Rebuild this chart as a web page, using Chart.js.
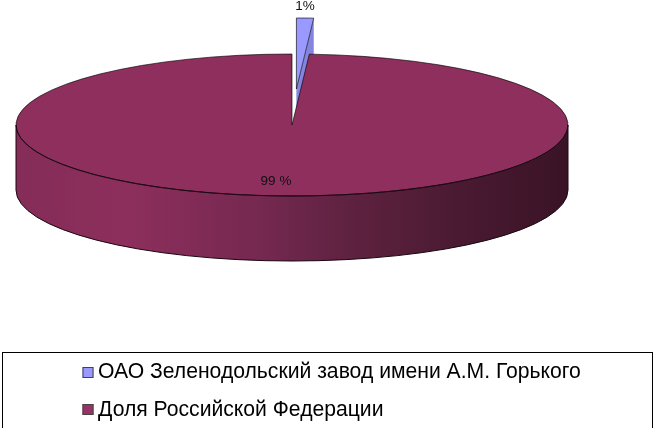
<!DOCTYPE html>
<html>
<head>
<meta charset="utf-8">
<script src="https://cdn.jsdelivr.net/npm/chart.js@4"></script>
<style>
  html, body { margin: 0; padding: 0; background: #fff; overflow: hidden; }
  canvas { display: block; }
</style>
</head>
<body>
<canvas id="pieChart" width="655" height="428"></canvas>
<script>
// Dados do gráfico
const categories = ["ОАО Зеленодольский завод имени А.М. Горького", "Доля Российской Федерации"];
const shares = [1, 99];
const shareLabels = ["1%", "99 %"];

// Cores
const sliceColors = ["#9999ff", "#8f2f5d"];
const swatchColors = ["#9999ff", "#993366"];
const cutColors = ["#8585e0", "#6f264a"];

// Geometria do "3D"
const centerX = 292, centerY = 125;
const radiusX = 276, radiusY = 71;
const squash = radiusY / radiusX;
const depth = 65;
const sliceExplode = [140, 0];
const labelSpots = [[305, 6], [276, 181]];

function wallGradient(ctx) {
  const g = ctx.createLinearGradient(centerX - radiusX, 0, centerX + radiusX, 0);
  g.addColorStop(0, "#852c58");
  g.addColorStop(0.2, "#8d2f5c");
  g.addColorStop(0.45, "#742850");
  g.addColorStop(0.6, "#5f2240");
  g.addColorStop(0.8, "#4a1a32");
  g.addColorStop(1, "#3a1326");
  return g;
}

const pie3d = {
  id: "pie3d",
  // o offset do Chart.js também aumenta o raio, então afasto a fatia aqui
  afterDatasetsUpdate(chart) {
    chart.getDatasetMeta(0).data.forEach((arc, i) => {
      const mid = (arc.startAngle + arc.endAngle) / 2;
      arc.baseX = arc.x;
      arc.baseY = arc.y;
      arc.x += Math.cos(mid) * sliceExplode[i];
      arc.y += Math.sin(mid) * sliceExplode[i];
    });
  },
  beforeDraw(chart) {
    const { ctx } = chart;
    // caixa da legenda
    ctx.save();
    ctx.strokeStyle = "#000";
    ctx.lineWidth = 1;
    ctx.strokeRect(2.5, 352.5, 650, 80);
    ctx.restore();
  },
  beforeDatasetsDraw(chart) {
    const { ctx } = chart;
    const arcs = chart.getDatasetMeta(0).data;
    ctx.save();
    arcs.forEach((arc, i) => {
      const ax = centerX + arc.x - arc.baseX;
      const ay = centerY + (arc.y - arc.baseY) * squash;
      // face do corte
      const ex = ax + Math.cos(arc.endAngle) * radiusX;
      const ey = ay + Math.sin(arc.endAngle) * radiusY;
      ctx.fillStyle = cutColors[i];
      ctx.beginPath();
      ctx.moveTo(ax, ay);
      ctx.lineTo(ex, ey);
      ctx.lineTo(ex, ey + depth);
      ctx.lineTo(ax, ay + depth);
      ctx.closePath();
      ctx.fill();
    });
    // parede da frente
    ctx.fillStyle = wallGradient(ctx);
    ctx.beginPath();
    ctx.ellipse(centerX, centerY, radiusX, radiusY, 0, 0, Math.PI);
    ctx.ellipse(centerX, centerY + depth, radiusX, radiusY, 0, Math.PI, 0, true);
    ctx.closePath();
    ctx.fill();
    ctx.restore();
    // achata o círculo do Chart.js numa elipse
    ctx.save();
    ctx.translate(centerX, centerY);
    ctx.scale(1, squash);
    ctx.translate(-arcs[0].baseX, -arcs[0].baseY);
  },
  afterDatasetsDraw(chart) {
    const { ctx } = chart;
    ctx.restore();
    ctx.save();
    // contornos da frente
    ctx.strokeStyle = "#1a0610";
    ctx.lineWidth = 1;
    ctx.beginPath();
    ctx.ellipse(centerX, centerY, radiusX, radiusY, 0, 0, Math.PI);
    ctx.stroke();
    ctx.beginPath();
    ctx.moveTo(centerX - radiusX, centerY);
    ctx.lineTo(centerX - radiusX, centerY + depth);
    ctx.ellipse(centerX, centerY + depth, radiusX, radiusY, 0, Math.PI, 0, true);
    ctx.lineTo(centerX + radiusX, centerY);
    ctx.stroke();
    // rótulos
    ctx.fillStyle = "#111";
    ctx.font = "13.5px 'Liberation Sans'";
    ctx.textAlign = "center";
    ctx.textBaseline = "middle";
    shareLabels.forEach((t, i) => ctx.fillText(t, labelSpots[i][0], labelSpots[i][1]));
    ctx.restore();
  },
  afterDraw(chart) {
    // quadradinhos da legenda, mais perto do texto do que o Chart.js permite
    const { ctx, legend } = chart;
    ctx.save();
    legend.legendHitBoxes.forEach((box, i) => {
      const x = box.left - 5, y = Math.round(box.top + box.height / 2 - 5.5);
      ctx.fillStyle = swatchColors[i];
      ctx.fillRect(x, y, 11, 11);
      ctx.strokeStyle = "#444";
      ctx.strokeRect(x + 0.5, y + 0.5, 10, 10);
    });
    ctx.restore();
  },
};

new Chart(document.getElementById("pieChart"), {
  type: "pie",
  data: {
    labels: categories,
    datasets: [{
      data: shares,
      backgroundColor: sliceColors,
      borderColor: "#000",
      borderWidth: 1,
      clip: false,
    }],
  },
  options: {
    responsive: false,
    animation: false,
    radius: radiusX,
    layout: { padding: { left: 71, bottom: -2.5 } },
    plugins: {
      tooltip: { enabled: false },
      legend: {
        position: "bottom",
        align: "start",
        fullSize: false,
        labels: {
          boxWidth: 0,
          padding: 16.5,
          color: "#000",
          font: { family: "'Liberation Sans'", size: 21.15 },
        },
      },
    },
  },
  plugins: [pie3d],
});
</script>
</body>
</html>
